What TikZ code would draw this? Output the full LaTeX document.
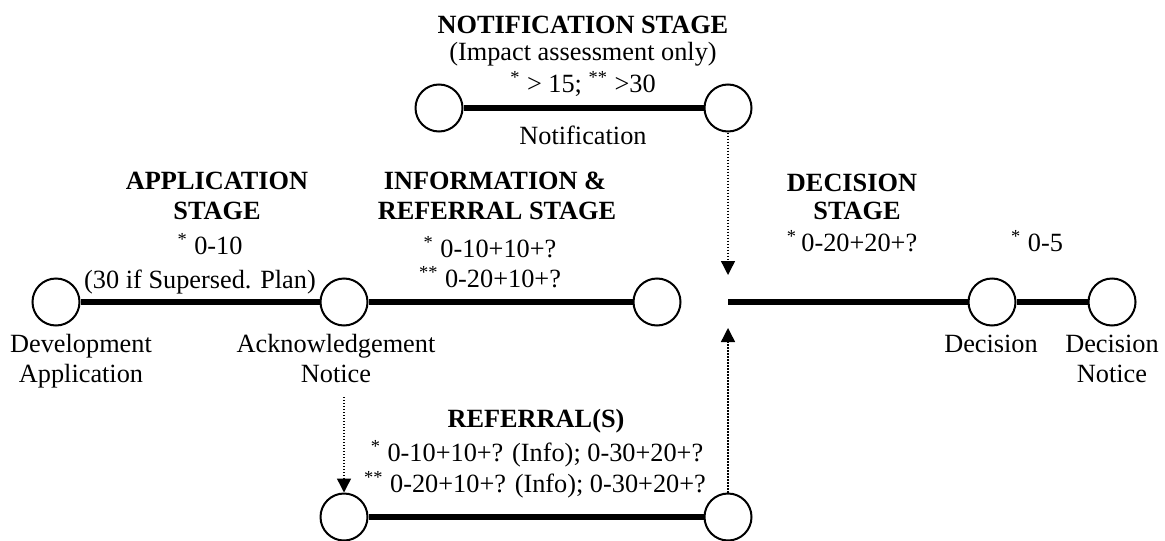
\documentclass[tikz,border=0pt]{standalone}
\usepackage{fontspec}
\setmainfont{Liberation Serif}
\usetikzlibrary{arrows.meta}

\begin{document}
\begin{tikzpicture}[x=0.5pt,y=-0.5pt,
  stop/.style={circle,draw=black,line width=1pt,fill=white,minimum size=23.5pt,inner sep=0pt},
  phase/.style={line width=3.4pt},
  link/.style={line width=0.7pt,dash pattern=on 0.7pt off 0.8pt,
    -{Triangle[width=7pt,length=7pt]}},
  txt/.style={anchor=base,inner sep=0pt,font=\fontsize{13.15}{15}\selectfont},
  ttl/.style={anchor=base,inner sep=0pt,font=\fontsize{13.15}{15}\selectfont\bfseries}]
\useasboundingbox (0,0) rectangle (1165,540);

% milestones
\node[stop] (dev)  at (56,302)   {};
\node[stop] (ack)  at (344,302)  {};
\node[stop] (info) at (657,302)  {};
\node[stop] (dec)  at (992,302)  {};
\node[stop] (decn) at (1112,302) {};
\node[stop] (notA) at (439,108)  {};
\node[stop] (notB) at (728,108)  {};
\node[stop] (refA) at (344,517)  {};
\node[stop] (refB) at (728,517)  {};

\coordinate (decStart) at (728,302);
\coordinate (mainIn)   at (728,275);
\coordinate (mainOut)  at (728,328);
\coordinate (ackDrop)  at (344,397);

% stage bars
\draw[phase] (dev) -- (ack);
\draw[phase] (ack) -- (info);
\draw[phase] (decStart) -- (dec);
\draw[phase] (dec) -- (decn);
\draw[phase] (notA) -- (notB);
\draw[phase] (refA) -- (refB);

% hand-overs between stages
\draw[link] (notB) -- (mainIn);
\draw[link] (refB) -- (mainOut);
\draw[link] (ackDrop) -- (refA);

% notification stage
\node[ttl] (tNot1) at (583,34) {NOTIFICATION STAGE};
\node[txt] (tNot2) at (583,61) {(Impact assessment only)};
\node[txt] (tNot3) at (583,92) {\textsuperscript{*} > 15; \textsuperscript{**} >30};
\node[txt] (tNot4) at (583,144) {Notification};

% application stage
\node[ttl] (tApp1) at (217,189) {APPLICATION};
\node[ttl] (tApp2) at (217,219) {STAGE};
\node[txt] (tApp3) at (210,254) {\textsuperscript{*} 0-10};
\node[txt] (tApp4) at (200,288) {(30 if Supersed. Plan)};

% information and referral stage
\node[ttl] (tInf1) at (495,189) {INFORMATION \&};
\node[ttl] (tInf2) at (497,219) {REFERRAL STAGE};
\node[txt] (tInf3) at (490,257) {\textsuperscript{*} 0-10+10+?};
\node[txt] (tInf4) at (490,287) {\textsuperscript{**} 0-20+10+?};

% decision stage
\node[ttl] (tDec1) at (852,191) {DECISION};
\node[ttl] (tDec2) at (857,219) {STAGE};
\node[txt] (tDec3) at (852,251) {\textsuperscript{*}\,0-20+20+?};
\node[txt] (tDec4) at (1037,251) {\textsuperscript{*} 0-5};

% referrals
\node[ttl] (tRef1) at (536,427) {REFERRAL(S)};
\node[txt] (tRef2) at (537,461) {\textsuperscript{*} 0-10+10+? (Info); 0-30+20+?};
\node[txt] (tRef3) at (535,492) {\textsuperscript{**} 0-20+10+? (Info); 0-30+20+?};

% milestone labels
\node[txt] (lDev1) at (81,352) {Development};
\node[txt] (lDev2) at (81,382) {Application};
\node[txt] (lAck1) at (336,352) {Acknowledgement};
\node[txt] (lAck2) at (336,382) {Notice};
\node[txt] (lDec)  at (991,352) {Decision};
\node[txt] (lDcn1) at (1112,352) {Decision};
\node[txt] (lDcn2) at (1112,382) {Notice};
\end{tikzpicture}
\end{document}
